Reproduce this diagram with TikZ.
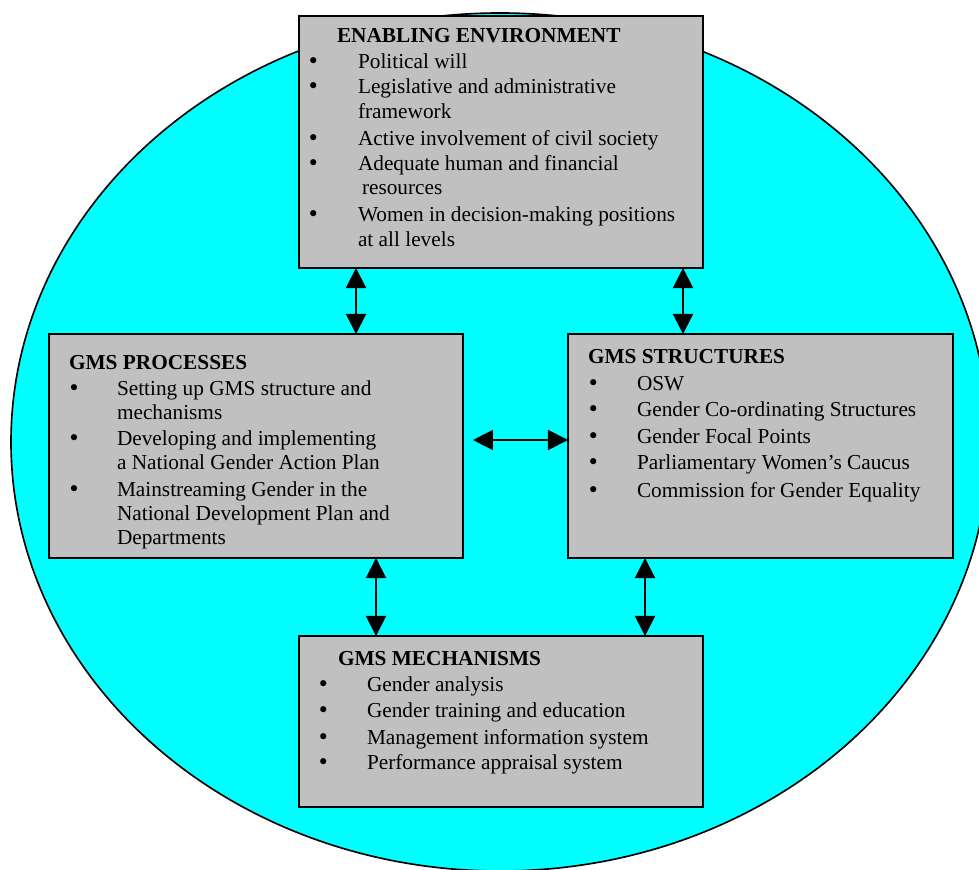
\documentclass[tikz,border=0pt]{standalone}
\usepackage{fontspec}
\setmainfont{Liberation Serif}
\newfontfamily\bulfont{DejaVu Sans}
\usetikzlibrary{arrows.meta,fit,calc}
\definecolor{ellcyan}{RGB}{0,255,255}
\definecolor{boxgray}{RGB}{192,192,192}
\newcommand{\tline}[4]{\node[tl] (#1) at (#2,#3) {#4};}
\newcommand{\bul}[3]{\node[bl] (#1) at (#2,#3) {•};}
\begin{document}
\begin{tikzpicture}[x=0.5445pt,y=-0.5445pt,
  tl/.style={anchor=base west,inner sep=0pt,outer sep=0pt,font=\fontsize{11.6}{14}\selectfont},
  ttl/.style={tl,font=\fontsize{11.6}{14}\selectfont\bfseries},
  bl/.style={anchor=base,inner sep=0pt,outer sep=0pt,font=\bulfont\fontsize{11.5}{12}\selectfont},
  box/.style={draw=black,fill=boxgray,line width=1.05pt,inner sep=0pt,outer sep=0pt},
  arr/.style={line width=1.1pt,{Triangle[length=10.9pt,width=10.9pt]}-{Triangle[length=10.9pt,width=10.9pt]}}]
\clip (0,0) rectangle (979,870);
\fill[white] (0,0) rectangle (979,870);
% big ellipse
\draw[fill=ellcyan,line width=0.9pt] (500,442) ellipse [x radius=489, y radius=429];
% boxes
\node[box,fit={(299,16) (703,268)}] (ee) {};
\node[box,fit={(49,334) (463,558)}] (proc) {};
\node[box,fit={(568,334) (953,558)}] (struct) {};
\node[box,fit={(299,636) (703,807)}] (mech) {};
% connectors
\draw[arr] ($(ee.south west)+(57,0)$) -- ($(proc.north west)+(307,0)$);
\draw[arr] ($(ee.south west)+(384,0)$) -- ($(struct.north west)+(115,0)$);
\draw[arr,shorten <=5.4pt] ($(proc.north east)+(0,106)$) -- ($(struct.north west)+(0,106)$);
\draw[arr] ($(proc.south west)+(327,0)$) -- ($(mech.north west)+(77,0)$);
\draw[arr] ($(struct.south west)+(77,0)$) -- ($(mech.north west)+(346,0)$);
% top box text
\node[ttl] (eet) at (337,42.7) {ENABLING ENVIRONMENT};
\bul{eb1}{313.3}{68.3}\tline{ee1}{358}{68.3}{Political will}
\bul{eb2}{313.3}{94}\tline{ee2}{358}{94}{Legislative and administrative}
\tline{ee2b}{358}{118.3}{framework}
\bul{eb3}{313.3}{145.7}\tline{ee3}{358}{145.7}{Active involvement of civil society}
\bul{eb4}{313.3}{170.7}\tline{ee4}{358}{170.7}{Adequate human and financial}
\tline{ee4b}{362}{195}{resources}
\bul{eb5}{313.3}{221.7}\tline{ee5}{358}{221.7}{Women in decision-making positions}
\tline{ee5b}{358}{246}{at all levels}
% left box text
\node[ttl] (prt) at (69,369.3) {GMS PROCESSES};
\bul{pb1}{74}{395}\tline{pr1}{117}{395}{Setting up GMS structure and}
\tline{pr1b}{117}{419.3}{mechanisms}
\bul{pb2}{74}{445}\tline{pr2}{117}{445}{Developing and implementing}
\tline{pr2b}{117}{469.3}{a National Gender Action Plan}
\bul{pb3}{74}{496}\tline{pr3}{117}{496}{Mainstreaming Gender in the}
\tline{pr3b}{117}{520}{National Development Plan and}
\tline{pr3c}{117}{544}{Departments}
% right box text
\node[ttl] (stt) at (588,363.3) {GMS STRUCTURES};
\bul{sb1}{593.3}{390.7}\tline{st1}{637}{390.7}{OSW}
\bul{sb2}{593.3}{416.7}\tline{st2}{637}{416.7}{Gender Co-ordinating Structures}
\bul{sb3}{593.3}{443.3}\tline{st3}{637}{443.3}{Gender Focal Points}
\bul{sb4}{593.3}{469}\tline{st4}{637}{469}{Parliamentary Women’s Caucus}
\bul{sb5}{593.3}{497.7}\tline{st5}{637}{497.7}{Commission for Gender Equality}
% bottom box text
\node[ttl] (mct) at (338,665) {GMS MECHANISMS};
\bul{mb1}{323.3}{691.7}\tline{mc1}{367}{691.7}{Gender analysis}
\bul{mb2}{323.3}{717.3}\tline{mc2}{367}{717.3}{Gender training and education}
\bul{mb3}{323.3}{744}\tline{mc3}{367}{744}{Management information system}
\bul{mb4}{323.3}{769.3}\tline{mc4}{367}{769.3}{Performance appraisal system}
\end{tikzpicture}
\end{document}
